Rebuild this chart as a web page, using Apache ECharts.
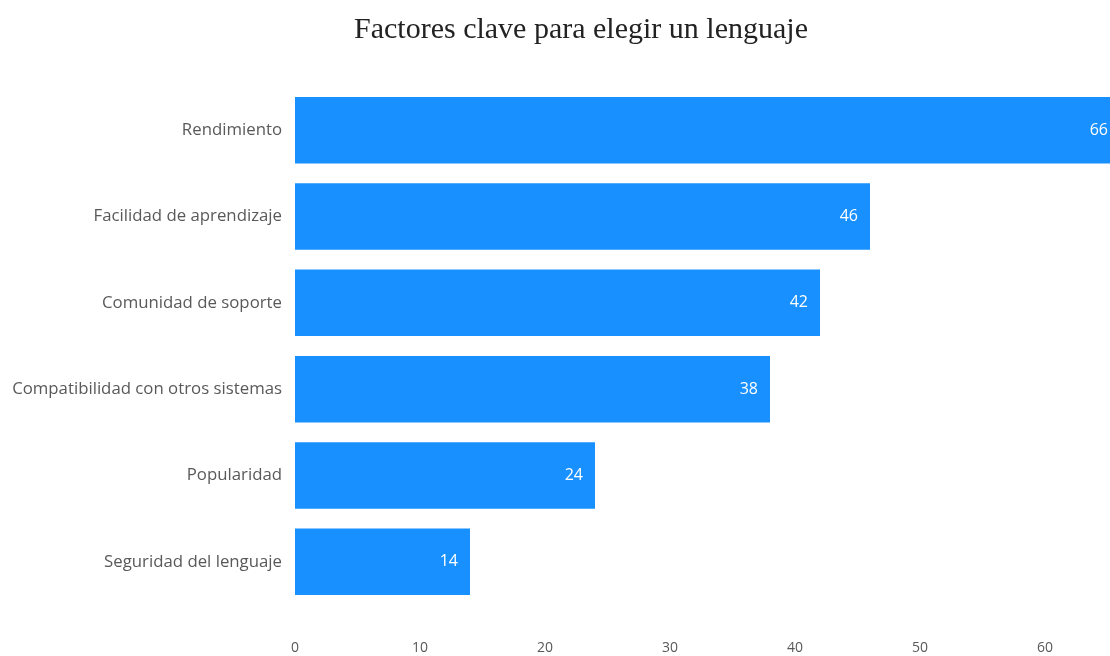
<!DOCTYPE html>
<html>
<head>
<meta charset="utf-8">
<script src="https://cdn.jsdelivr.net/npm/echarts@6/dist/echarts.min.js"></script>
<style>
html,body{margin:0;padding:0;background:#fff;}
#main{width:1110px;height:656px;}
</style>
</head>
<body>
<div id="main"></div>
<script>
const categories = ["Rendimiento","Facilidad de aprendizaje","Comunidad de soporte","Compatibilidad con otros sistemas","Popularidad","Seguridad del lenguaje"];
const values = [66,46,42,38,24,14];
const titleText = "Factores clave para elegir un lenguaje";

const chart = echarts.init(document.getElementById('main'));
chart.setOption({
  animation:false,
  title:{text:titleText,left:349,top:10,textStyle:{fontFamily:'"Liberation Serif", "DejaVu Serif", serif',fontSize:30,fontWeight:'normal',color:'#222'}},
  grid:{left:295,top:87,width:825,height:518,containLabel:false,outerBoundsMode:'none'},
  xAxis:{type:'value',min:0,max:66,interval:10,splitLine:{show:false},axisLine:{show:false},axisTick:{show:false},
    axisLabel:{margin:36,color:'#595959',fontSize:14,showMaxLabel:false,fontFamily:'"Open Sans", sans-serif'}},
  yAxis:{type:'category',inverse:true,data:categories,axisLine:{show:false},axisTick:{show:false},
    axisLabel:{margin:13,color:'#595959',fontSize:16.8,fontFamily:'"Open Sans", sans-serif'}},
  series:[{type:'bar',data:values,barCategoryGap:'23%',itemStyle:{color:'#1890ff'},
    label:{show:true,position:'insideRight',distance:12,color:'#fff',fontSize:16,fontFamily:'"Open Sans", sans-serif'}}]
});
</script>
</body>
</html>
